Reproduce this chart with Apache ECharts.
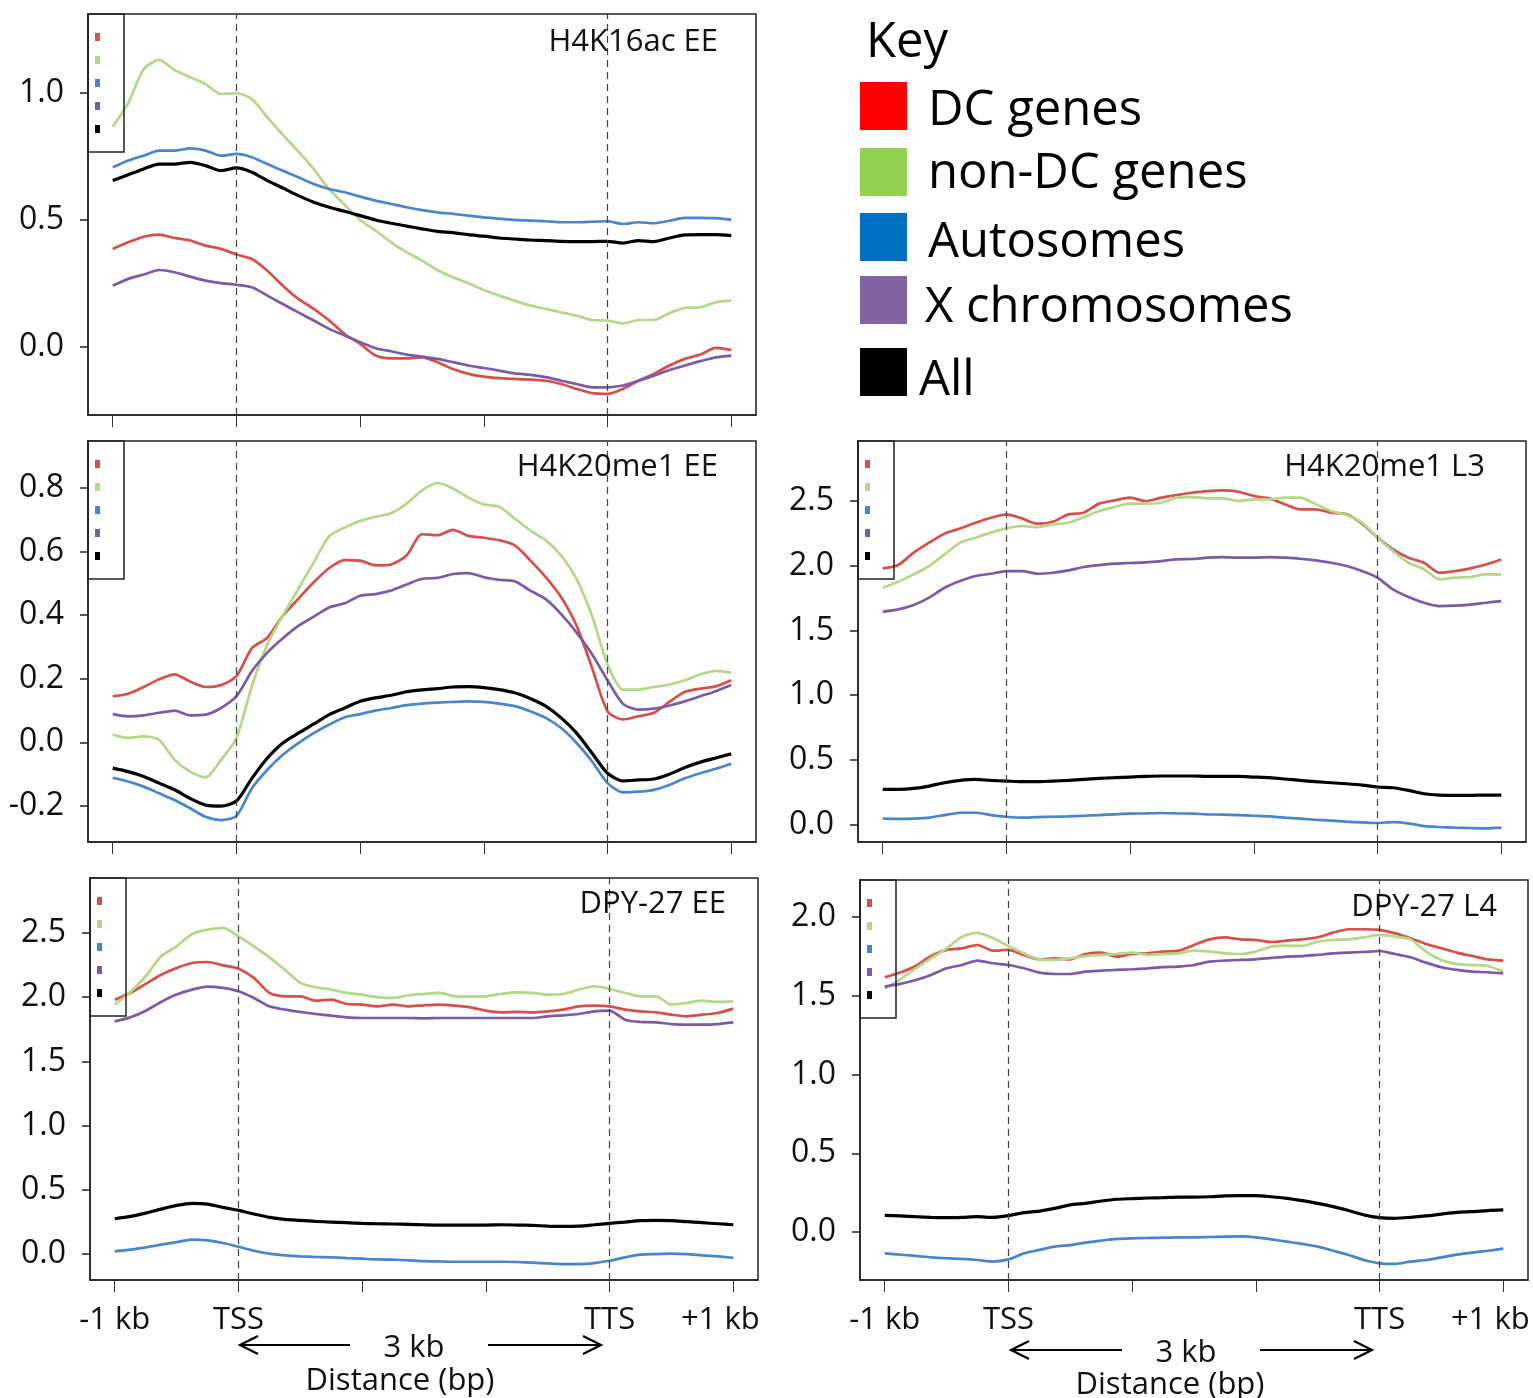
<!DOCTYPE html>
<html>
<head>
<meta charset="utf-8">
<title>Metagene profiles</title>
<script src="https://cdn.jsdelivr.net/npm/echarts@6/dist/echarts.min.js"></script>
<style>
html, body { margin: 0; padding: 0; background: #fff; }
#chart { width: 1533px; height: 1398px; }
</style>
</head>
<body>
<div id="chart"></div>
<script>
// position along the metagene: 0 = -1 kb, 1 = TSS, 4 = TTS, 5 = +1 kb
const pos = [0, 0.125, 0.25, 0.375, 0.5, 0.625, 0.75, 0.875, 1, 1.125, 1.25, 1.375, 1.5, 1.625, 1.75, 1.875,
  2, 2.125, 2.25, 2.375, 2.5, 2.625, 2.75, 2.875, 3, 3.125, 3.25, 3.375, 3.5, 3.625, 3.75, 3.875,
  4, 4.125, 4.25, 4.375, 4.5, 4.625, 4.75, 4.875, 5];
const xTickPos = [0, 1, 2, 3, 4, 5];
const xLabelPos = [0, 1, 4, 5];
const xLabelText = ['-1 kb', 'TSS', 'TTS', '+1 kb'];
const seriesNames = ['DC genes', 'non-DC genes', 'Autosomes', 'X chromosomes', 'All'];

// H4K16ac EE
const k16EE_ticks = [0, 0.5, 1.0];
const k16EE_dc = [0.386, 0.412, 0.434, 0.442, 0.429, 0.419, 0.399, 0.386, 0.364, 0.346, 0.30, 0.241, 0.189, 0.15, 0.104, 0.051, 0.012, -0.034, -0.045, -0.045, -0.041, -0.06, -0.087, -0.106, -0.117, -0.123, -0.126, -0.129, -0.133, -0.146, -0.165, -0.182, -0.185, -0.165, -0.133, -0.106, -0.073, -0.047, -0.03, -0.004, -0.012];
const k16EE_nondc = [0.867, 0.96, 1.094, 1.13, 1.09, 1.062, 1.035, 0.996, 0.999, 0.976, 0.904, 0.835, 0.77, 0.70, 0.62, 0.56, 0.50, 0.458, 0.412, 0.373, 0.34, 0.303, 0.274, 0.251, 0.224, 0.202, 0.182, 0.163, 0.15, 0.136, 0.123, 0.106, 0.104, 0.093, 0.106, 0.106, 0.133, 0.154, 0.156, 0.176, 0.182];
const k16EE_auto = [0.707, 0.734, 0.753, 0.773, 0.773, 0.782, 0.773, 0.753, 0.76, 0.747, 0.72, 0.694, 0.668, 0.642, 0.622, 0.609, 0.592, 0.576, 0.563, 0.55, 0.539, 0.53, 0.524, 0.517, 0.51, 0.505, 0.50, 0.497, 0.495, 0.491, 0.491, 0.493, 0.495, 0.484, 0.491, 0.487, 0.497, 0.508, 0.508, 0.507, 0.501];
const k16EE_x = [0.241, 0.268, 0.285, 0.303, 0.294, 0.277, 0.261, 0.251, 0.245, 0.235, 0.202, 0.169, 0.136, 0.104, 0.071, 0.045, 0.018, -0.005, -0.017, -0.03, -0.038, -0.047, -0.06, -0.073, -0.083, -0.093, -0.104, -0.11, -0.119, -0.133, -0.146, -0.159, -0.159, -0.152, -0.133, -0.113, -0.091, -0.073, -0.056, -0.041, -0.034];
const k16EE_all = [0.655, 0.678, 0.701, 0.72, 0.72, 0.727, 0.714, 0.694, 0.705, 0.688, 0.655, 0.626, 0.596, 0.57, 0.55, 0.534, 0.517, 0.50, 0.487, 0.476, 0.465, 0.455, 0.45, 0.442, 0.436, 0.429, 0.425, 0.421, 0.419, 0.416, 0.415, 0.415, 0.416, 0.409, 0.419, 0.415, 0.429, 0.441, 0.442, 0.442, 0.438];

// H4K20me1 EE
const k20EE_ticks = [-0.2, 0, 0.2, 0.4, 0.6, 0.8];
const k20EE_dc = [0.145, 0.153, 0.174, 0.198, 0.214, 0.191, 0.174, 0.18, 0.208, 0.296, 0.329, 0.398, 0.451, 0.503, 0.548, 0.573, 0.571, 0.556, 0.559, 0.587, 0.654, 0.651, 0.668, 0.649, 0.643, 0.635, 0.619, 0.572, 0.519, 0.456, 0.366, 0.234, 0.098, 0.072, 0.082, 0.093, 0.127, 0.159, 0.169, 0.176, 0.195];
const k20EE_nondc = [0.024, 0.014, 0.019, 0.008, -0.055, -0.092, -0.11, -0.055, 0.014, 0.177, 0.308, 0.398, 0.482, 0.566, 0.648, 0.675, 0.696, 0.709, 0.72, 0.75, 0.792, 0.815, 0.798, 0.769, 0.748, 0.74, 0.703, 0.666, 0.635, 0.587, 0.513, 0.397, 0.245, 0.166, 0.166, 0.174, 0.182, 0.195, 0.214, 0.225, 0.219];
const k20EE_auto = [-0.111, -0.123, -0.139, -0.16, -0.181, -0.207, -0.234, -0.244, -0.231, -0.144, -0.086, -0.039, -0.002, 0.029, 0.056, 0.079, 0.089, 0.10, 0.108, 0.117, 0.122, 0.125, 0.127, 0.129, 0.127, 0.122, 0.114, 0.098, 0.077, 0.045, -0.002, -0.06, -0.128, -0.157, -0.155, -0.149, -0.134, -0.113, -0.097, -0.083, -0.067];
const k20EE_x = [0.089, 0.082, 0.085, 0.093, 0.10, 0.085, 0.087, 0.108, 0.145, 0.224, 0.282, 0.327, 0.366, 0.395, 0.424, 0.437, 0.461, 0.466, 0.477, 0.496, 0.514, 0.517, 0.529, 0.532, 0.519, 0.511, 0.506, 0.477, 0.45, 0.403, 0.345, 0.277, 0.195, 0.121, 0.103, 0.106, 0.116, 0.129, 0.145, 0.161, 0.18];
const k20EE_all = [-0.081, -0.092, -0.107, -0.128, -0.149, -0.176, -0.197, -0.2, -0.184, -0.113, -0.049, -0.002, 0.029, 0.058, 0.087, 0.108, 0.129, 0.14, 0.148, 0.159, 0.165, 0.169, 0.174, 0.175, 0.172, 0.166, 0.156, 0.138, 0.114, 0.077, 0.029, -0.034, -0.097, -0.121, -0.118, -0.115, -0.10, -0.079, -0.062, -0.049, -0.036];

// H4K20me1 L3
const k20L3_ticks = [0, 0.5, 1.0, 1.5, 2.0, 2.5];
const k20L3_dc = [1.98, 2.006, 2.101, 2.178, 2.248, 2.288, 2.332, 2.371, 2.397, 2.366, 2.325, 2.34, 2.397, 2.41, 2.48, 2.505, 2.526, 2.50, 2.526, 2.546, 2.564, 2.577, 2.582, 2.572, 2.539, 2.521, 2.475, 2.436, 2.436, 2.41, 2.397, 2.325, 2.217, 2.126, 2.062, 2.023, 1.946, 1.959, 1.98, 2.01, 2.049];
const k20L3_nondc = [1.83, 1.877, 1.933, 1.998, 2.088, 2.178, 2.217, 2.256, 2.289, 2.307, 2.299, 2.32, 2.332, 2.376, 2.423, 2.454, 2.48, 2.48, 2.487, 2.526, 2.531, 2.521, 2.521, 2.50, 2.513, 2.513, 2.526, 2.526, 2.475, 2.423, 2.392, 2.332, 2.217, 2.113, 2.023, 1.972, 1.895, 1.908, 1.913, 1.933, 1.933];
const k20L3_auto = [0.045, 0.043, 0.045, 0.053, 0.073, 0.091, 0.091, 0.073, 0.06, 0.053, 0.058, 0.06, 0.063, 0.068, 0.073, 0.079, 0.084, 0.086, 0.089, 0.086, 0.084, 0.079, 0.076, 0.073, 0.068, 0.063, 0.053, 0.045, 0.037, 0.03, 0.022, 0.017, 0.012, 0.019, 0.009, -0.012, -0.019, -0.024, -0.027, -0.03, -0.024];
const k20L3_x = [1.645, 1.663, 1.697, 1.754, 1.83, 1.882, 1.921, 1.938, 1.959, 1.959, 1.938, 1.946, 1.964, 1.99, 2.005, 2.016, 2.021, 2.026, 2.036, 2.049, 2.052, 2.062, 2.067, 2.062, 2.062, 2.067, 2.062, 2.054, 2.041, 2.023, 1.998, 1.959, 1.907, 1.817, 1.758, 1.714, 1.688, 1.691, 1.70, 1.714, 1.727];
const k20L3_all = [0.272, 0.272, 0.279, 0.297, 0.323, 0.341, 0.349, 0.341, 0.336, 0.331, 0.331, 0.336, 0.341, 0.349, 0.357, 0.362, 0.367, 0.372, 0.375, 0.375, 0.375, 0.372, 0.372, 0.372, 0.367, 0.362, 0.352, 0.341, 0.331, 0.323, 0.315, 0.305, 0.29, 0.284, 0.264, 0.238, 0.228, 0.225, 0.225, 0.228, 0.228];

// DPY-27 EE
const dpyEE_ticks = [0, 0.5, 1.0, 1.5, 2.0, 2.5];
const dpyEE_dc = [1.981, 2.033, 2.103, 2.175, 2.227, 2.266, 2.274, 2.248, 2.222, 2.15, 2.033, 2.007, 2.007, 1.973, 1.981, 1.947, 1.942, 1.929, 1.942, 1.929, 1.937, 1.942, 1.934, 1.921, 1.895, 1.882, 1.885, 1.882, 1.89, 1.903, 1.929, 1.934, 1.929, 1.903, 1.89, 1.882, 1.864, 1.851, 1.864, 1.877, 1.911];
const dpyEE_nondc = [1.942, 2.038, 2.163, 2.318, 2.396, 2.492, 2.526, 2.539, 2.474, 2.396, 2.31, 2.214, 2.111, 2.077, 2.059, 2.033, 2.02, 1.999, 1.994, 2.015, 2.025, 2.033, 2.007, 2.004, 2.007, 2.025, 2.038, 2.033, 2.02, 2.025, 2.059, 2.085, 2.064, 2.033, 2.007, 2.007, 1.942, 1.955, 1.973, 1.963, 1.968];
const dpyEE_auto = [0.021, 0.034, 0.052, 0.073, 0.093, 0.112, 0.106, 0.086, 0.057, 0.026, 0.003, -0.01, -0.018, -0.023, -0.026, -0.031, -0.036, -0.042, -0.044, -0.049, -0.055, -0.057, -0.06, -0.06, -0.06, -0.06, -0.062, -0.067, -0.073, -0.078, -0.078, -0.07, -0.052, -0.026, -0.005, 0.0, 0.003, 0.0, -0.01, -0.018, -0.029];
const dpyEE_x = [1.812, 1.843, 1.895, 1.963, 2.02, 2.059, 2.082, 2.072, 2.046, 1.994, 1.929, 1.903, 1.885, 1.869, 1.856, 1.843, 1.838, 1.838, 1.838, 1.838, 1.835, 1.838, 1.838, 1.838, 1.838, 1.838, 1.838, 1.838, 1.851, 1.859, 1.869, 1.89, 1.895, 1.825, 1.807, 1.804, 1.791, 1.786, 1.786, 1.791, 1.804];
const dpyEE_all = [0.275, 0.293, 0.319, 0.35, 0.379, 0.395, 0.389, 0.363, 0.34, 0.312, 0.286, 0.27, 0.262, 0.254, 0.249, 0.244, 0.239, 0.236, 0.234, 0.231, 0.228, 0.226, 0.226, 0.226, 0.226, 0.228, 0.226, 0.223, 0.218, 0.215, 0.218, 0.228, 0.239, 0.249, 0.26, 0.262, 0.26, 0.252, 0.244, 0.236, 0.228];

// DPY-27 L4
const dpyL4_ticks = [0, 0.5, 1.0, 1.5, 2.0];
const dpyL4_dc = [1.618, 1.648, 1.69, 1.753, 1.792, 1.802, 1.823, 1.787, 1.792, 1.76, 1.732, 1.739, 1.732, 1.766, 1.775, 1.749, 1.766, 1.77, 1.781, 1.787, 1.823, 1.859, 1.872, 1.859, 1.855, 1.842, 1.851, 1.859, 1.872, 1.902, 1.923, 1.923, 1.919, 1.897, 1.866, 1.83, 1.802, 1.775, 1.753, 1.732, 1.724];
const dpyL4_nondc = [1.548, 1.605, 1.675, 1.739, 1.802, 1.876, 1.90, 1.866, 1.817, 1.77, 1.732, 1.728, 1.739, 1.753, 1.76, 1.766, 1.775, 1.76, 1.766, 1.77, 1.787, 1.781, 1.77, 1.766, 1.781, 1.813, 1.819, 1.817, 1.844, 1.855, 1.859, 1.872, 1.887, 1.876, 1.859, 1.781, 1.728, 1.703, 1.696, 1.69, 1.654];
const dpyL4_auto = [-0.136, -0.144, -0.152, -0.161, -0.167, -0.171, -0.178, -0.188, -0.174, -0.136, -0.114, -0.093, -0.083, -0.068, -0.055, -0.044, -0.04, -0.038, -0.036, -0.034, -0.034, -0.032, -0.03, -0.028, -0.034, -0.047, -0.061, -0.076, -0.093, -0.119, -0.146, -0.178, -0.199, -0.203, -0.188, -0.178, -0.161, -0.144, -0.131, -0.119, -0.106];
const dpyL4_x = [1.559, 1.576, 1.601, 1.633, 1.675, 1.696, 1.724, 1.707, 1.696, 1.675, 1.648, 1.639, 1.639, 1.654, 1.66, 1.665, 1.669, 1.675, 1.682, 1.686, 1.696, 1.718, 1.724, 1.728, 1.732, 1.741, 1.749, 1.753, 1.76, 1.77, 1.775, 1.779, 1.785, 1.766, 1.745, 1.711, 1.682, 1.665, 1.654, 1.65, 1.643];
const dpyL4_all = [0.106, 0.102, 0.097, 0.093, 0.091, 0.093, 0.097, 0.093, 0.104, 0.123, 0.133, 0.15, 0.172, 0.182, 0.197, 0.208, 0.212, 0.216, 0.218, 0.222, 0.222, 0.224, 0.229, 0.231, 0.231, 0.224, 0.214, 0.199, 0.182, 0.161, 0.136, 0.108, 0.091, 0.087, 0.093, 0.102, 0.114, 0.125, 0.129, 0.136, 0.14];

const FONT = '"Open Sans", "DejaVu Sans", sans-serif';
const lineColors = ['#d6504a', '#b4d78a', '#4a85c8', '#7c5ba6', '#000000'];
const keyColors = ['#ff0000', '#92d050', '#0070c0', '#8064a2', '#000000'];

// one entry per panel: box = [left, top, width, height] of the plot area
const panels = [
  { title: 'H4K16ac EE', box: [88, 14, 668, 401], y: [-0.268, 1.311], ticks: k16EE_ticks,
    lines: [k16EE_dc, k16EE_nondc, k16EE_auto, k16EE_x, k16EE_all], bottom: false, titleRight: 815, titleTop: 25 },
  { title: 'H4K20me1 EE', box: [88, 441, 668, 401], y: [-0.313, 0.947], ticks: k20EE_ticks,
    lines: [k20EE_dc, k20EE_nondc, k20EE_auto, k20EE_x, k20EE_all], bottom: false, titleRight: 815, titleTop: 450 },
  { title: 'H4K20me1 L3', box: [858, 441, 668, 401], y: [-0.135, 2.964], ticks: k20L3_ticks,
    lines: [k20L3_dc, k20L3_nondc, k20L3_auto, k20L3_x, k20L3_all], bottom: false, titleRight: 48, titleTop: 450 },
  { title: 'DPY-27 EE', box: [90, 878, 668, 402], y: [-0.202, 2.928], ticks: dpyEE_ticks,
    lines: [dpyEE_dc, dpyEE_nondc, dpyEE_auto, dpyEE_x, dpyEE_all], bottom: true, nameGap: 86, titleRight: 807, titleTop: 887 },
  { title: 'DPY-27 L4', box: [860, 880, 668, 400], y: [-0.305, 2.236], ticks: dpyL4_ticks,
    lines: [dpyL4_dc, dpyL4_nondc, dpyL4_auto, dpyL4_x, dpyL4_all], bottom: true, nameGap: 90, titleRight: 36, titleTop: 890 }
];

const grid = [], xAxis = [], yAxis = [], series = [], title = [], legend = [];

panels.forEach((p, i) => {
  grid.push({
    left: p.box[0], top: p.box[1], width: p.box[2], height: p.box[3],
    show: true, borderColor: '#222', borderWidth: 1.5,
    containLabel: false, outerBoundsMode: 'none'
  });
  xAxis.push({
    gridIndex: i, type: 'value', min: -0.2, max: 5.2,
    axisLine: { show: true, onZero: false, lineStyle: { color: '#222', width: 1.5 } },
    axisTick: { show: true, customValues: xTickPos, length: 12, lineStyle: { color: '#333', width: 1 } },
    axisLabel: {
      show: p.bottom, customValues: xLabelPos, margin: 25,
      fontSize: 31, fontFamily: FONT, color: '#111',
      // the last label sits a little left of its tick in the original
      formatter: v => v === 5 ? '{r|' + xLabelText[3] + '}' : xLabelText[xLabelPos.indexOf(v)],
      rich: { r: { fontSize: 31, fontFamily: FONT, color: '#111', padding: [0, 26, 0, 0] } }
    },
    splitLine: { show: false },
    name: p.bottom ? 'Distance (bp)' : '', nameLocation: 'middle', nameGap: p.nameGap || 86,
    nameTextStyle: { fontSize: 31, fontFamily: FONT, color: '#111', padding: [0, 48, 0, 0] }
  });
  yAxis.push({
    gridIndex: i, type: 'value', min: p.y[0], max: p.y[1],
    axisLine: { show: true, onZero: false, lineStyle: { color: '#222', width: 1.5 } },
    axisTick: { show: true, customValues: p.ticks, length: 8, lineStyle: { color: '#222', width: 1.5 } },
    axisLabel: {
      customValues: p.ticks, margin: 24,
      fontSize: 32, fontFamily: FONT, color: '#111',
      formatter: v => v.toFixed(1)
    },
    splitLine: { show: false }
  });
  p.lines.forEach((vals, k) => {
    const s = {
      name: seriesNames[k], type: 'line', xAxisIndex: i, yAxisIndex: i,
      data: pos.map((x, j) => [x, vals[j]]),
      showSymbol: false, smooth: 0.25, silent: true,
      itemStyle: { color: lineColors[k] },
      lineStyle: { color: lineColors[k], width: k === 4 ? 3.2 : 2.7 }
    };
    if (k === 4) {
      // TSS and TTS guides
      s.markLine = {
        silent: true, symbol: ['none', 'none'], label: { show: false },
        lineStyle: { color: '#444', width: 1.2, type: [7, 5] },
        data: [{ xAxis: 1 }, { xAxis: 4 }]
      };
    }
    series.push(s);
  });
  title.push({
    text: p.title, right: p.titleRight, top: p.titleTop, padding: 0,
    textStyle: { fontSize: 31, fontWeight: 'normal', fontFamily: FONT, color: '#111', lineHeight: 34 }
  });
  legend.push({
    data: seriesNames, orient: 'vertical', left: p.box[0], top: p.box[1],
    icon: 'rect', itemWidth: 5, itemHeight: 8, itemGap: 15,
    formatter: () => '', selectedMode: false,
    padding: [19, 24, 19, 7], borderColor: '#222', borderWidth: 1.5,
    textStyle: { fontSize: 8 }
  });
});

// key in the top-right corner
const keyRows = [
  { y: 82, textX: 928, textY: 111 },
  { y: 148, textX: 928, textY: 174 },
  { y: 213, textX: 928, textY: 243 },
  { y: 276, textX: 925, textY: 308 },
  { y: 348, textX: 919, textY: 381 }
];
const graphic = [
  { type: 'text', left: 866, top: 19, style: { text: 'Key', font: '49px ' + FONT, fill: '#000' } }
];
keyRows.forEach((r, k) => {
  graphic.push({ type: 'rect', shape: { x: 860, y: r.y, width: 47, height: 48 }, style: { fill: keyColors[k] } });
  graphic.push({
    type: 'text', x: r.textX, y: r.textY,
    style: { text: seriesNames[k], font: '49px ' + FONT, fill: '#000', textAlign: 'left', textVerticalAlign: 'middle' }
  });
});

// "3 kb" span arrows under the bottom panels
function spanArrow(x1, x2, xc, y) {
  const st = { stroke: '#000', lineWidth: 2.2, fill: null };
  return [
    { type: 'polyline', shape: { points: [[x1, y], [xc - 64, y]] }, style: st },
    { type: 'polyline', shape: { points: [[x1 + 18, y - 9], [x1, y], [x1 + 18, y + 9]] }, style: st },
    { type: 'polyline', shape: { points: [[xc + 74, y], [x2, y]] }, style: st },
    { type: 'polyline', shape: { points: [[x2 - 18, y - 9], [x2, y], [x2 - 18, y + 9]] }, style: st },
    { type: 'text', x: xc, y: y + 3,
      style: { text: '3 kb', font: '31px ' + FONT, fill: '#111', textAlign: 'center', textVerticalAlign: 'middle' } }
  ];
}
graphic.push(...spanArrow(240, 601, 414, 1345));
graphic.push(...spanArrow(1011, 1372, 1186, 1350));

const chart = echarts.init(document.getElementById('chart'), null, { renderer: 'canvas' });
chart.setOption({
  backgroundColor: '#fff',
  animation: false,
  title: title,
  legend: legend,
  grid: grid,
  xAxis: xAxis,
  yAxis: yAxis,
  series: series,
  graphic: graphic
});
</script>
</body>
</html>
